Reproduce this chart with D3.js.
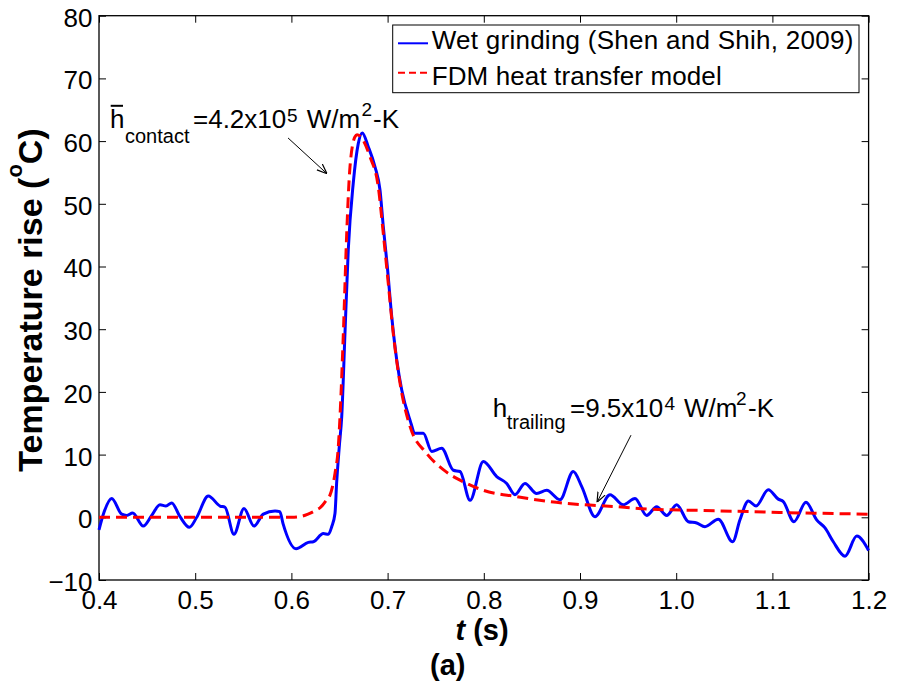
<!DOCTYPE html>
<html>
<head>
<meta charset="utf-8">
<script src="https://cdn.jsdelivr.net/npm/d3@7"></script>
<style>
  html, body { margin: 0; padding: 0; background: #fff; }
  svg { display: block; font-family: "Liberation Sans", Arial, sans-serif; }
</style>
</head>
<body>
<svg id="chart" width="901" height="690"></svg>
<script>
// ---------------- data ----------------
const wetTime = [0.4000,0.4052,0.4132,0.4236,0.4288,0.4350,0.4460,0.4548,0.4634,0.4696,0.4756,0.4842,0.4939,0.5016,0.5136,0.5258,0.5310,0.5403,0.5507,0.5611,0.5708,0.5830,0.5880,0.5913,0.6048,0.6176,0.6228,0.6332,0.6384,0.6419,0.6453,0.6470,0.6498,0.6523,0.6557,0.6591,0.6643,0.6695,0.6737,0.6799,0.6869,0.6921,0.6955,0.6997,0.7043,0.7095,0.7147,0.7233,0.7285,0.7371,0.7459,0.7562,0.7683,0.7753,0.7857,0.7995,0.8134,0.8238,0.8324,0.8428,0.8550,0.8654,0.8792,0.8930,0.9018,0.9156,0.9312,0.9450,0.9572,0.9693,0.9797,0.9901,1.0005,1.0126,1.0213,1.0299,1.0438,1.0587,1.0663,1.0750,1.0830,1.0957,1.1061,1.1113,1.1224,1.1349,1.1460,1.1547,1.1633,1.1755,1.1877,1.2000];
const wetTemp = [-2.0,0.8,3.0,0.5,0.3,0.7,-1.4,0.3,2.0,1.8,2.3,0.1,-1.6,0.0,3.4,1.8,1.6,-2.7,1.4,-1.4,0.5,1.0,0.9,-1.0,-5.0,-4.0,-3.9,-2.6,-2.7,-1.5,0.6,5.4,11.3,16.0,29.4,42.6,53.3,59.6,61.3,59.1,55.9,52.2,46.4,40.0,32.0,25.1,20.3,15.5,13.4,13.4,10.5,11.0,7.5,7.3,2.7,8.9,6.5,5.4,3.6,5.4,3.8,4.3,2.8,7.3,4.9,0.1,3.6,2.0,3.0,0.3,1.7,0.3,2.0,-0.7,-0.9,-1.5,-0.3,-3.9,-0.4,2.6,1.8,4.4,2.9,2.5,-0.7,2.4,-0.4,-1.7,-3.9,-6.2,-3.0,-5.3];

const fdmTime = [0.400,0.450,0.500,0.550,0.600,0.6089,0.6173,0.6263,0.6297,0.6367,0.6400,0.6453,0.6488,0.6505,0.6540,0.6575,0.6609,0.6661,0.6682,0.6713,0.6817,0.6903,0.6955,0.7007,0.7059,0.7129,0.7233,0.7406,0.7579,0.7718,0.7822,0.7995,0.8342,0.8688,0.9034,0.9382,0.9728,1.0249,1.0769,1.1289,1.2000];
const fdmTemp = [0.0,0.0,0.0,0.0,0.0,0.1,0.5,1.2,1.5,2.8,3.5,7.0,11.3,16.0,29.3,45.3,55.9,60.7,61.0,60.8,57.5,52.7,45.3,37.3,29.3,21.4,14.5,10.2,7.6,6.2,5.4,4.3,3.3,2.5,2.0,1.7,1.3,1.1,0.9,0.7,0.5];

const xTicks = [0.4,0.5,0.6,0.7,0.8,0.9,1.0,1.1,1.2];
const yTicks = [-10,0,10,20,30,40,50,60,70,80];
const seriesNames = ["Wet grinding (Shen and Shih, 2009)", "FDM heat transfer model"];

// ---------------- layout ----------------
const svg = d3.select("#chart");
const L = 99, R = 868.6, T = 15.7, B = 580;
const x = d3.scaleLinear().domain([0.4, 1.2]).range([L, R]);
const y = d3.scaleLinear().domain([-10, 80]).range([B, T]);
const tickFont = 26;

svg.append("rect").attr("width", 901).attr("height", 690).attr("fill", "#fff");

// axes
const gx = svg.append("g").attr("transform", `translate(0,${B})`)
  .call(d3.axisBottom(x).tickValues(xTicks).tickFormat(d3.format(".1f")).tickSize(-7).tickSizeOuter(0).tickPadding(11));
const gy = svg.append("g").attr("transform", `translate(${L},0)`)
  .call(d3.axisLeft(y).tickValues(yTicks).tickFormat(d3.format("d")).tickSize(-7).tickSizeOuter(0).tickPadding(6.5));
const gt = svg.append("g").attr("transform", `translate(0,${T})`)
  .call(d3.axisTop(x).tickValues(xTicks).tickFormat("").tickSize(-7).tickSizeOuter(0));
const gr = svg.append("g").attr("transform", `translate(${R},0)`)
  .call(d3.axisRight(y).tickValues(yTicks).tickFormat("").tickSize(-7).tickSizeOuter(0));
[gx, gy, gt, gr].forEach(g => {
  g.select(".domain").remove();
  g.selectAll(".tick line").attr("stroke", "#000").attr("stroke-width", 1);
  g.selectAll("text").attr("font-size", tickFont).attr("fill", "#000")
    .attr("font-family", "Liberation Sans, Arial, sans-serif");
});
gy.selectAll("text").attr("dy", "0.40em");

// frame
svg.append("rect").attr("x", L).attr("y", T).attr("width", R - L).attr("height", B - T)
  .attr("fill", "none").attr("stroke", "#000").attr("stroke-width", 1.3);

// lines
const line = d3.line().curve(d3.curveMonotoneX);
const wetPts = wetTime.map((t, i) => [x(t), y(wetTemp[i])]);
const fdmPts = fdmTime.map((t, i) => [x(t), y(fdmTemp[i])]);

svg.append("path").attr("d", line(wetPts)).attr("fill", "none")
  .attr("stroke", "#0000ff").attr("stroke-width", 3).attr("stroke-linejoin", "round");
svg.append("path").attr("d", line(fdmPts)).attr("fill", "none")
  .attr("stroke", "#ff0000").attr("stroke-width", 3).attr("stroke-dasharray", "11,6");

// legend
const lg = svg.append("g");
lg.append("rect").attr("x", 392.7).attr("y", 25).attr("width", 466.3).attr("height", 67.7)
  .attr("fill", "#fff").attr("stroke", "#000").attr("stroke-width", 1);
lg.append("line").attr("x1", 398).attr("x2", 428).attr("y1", 43.3).attr("y2", 43.3)
  .attr("stroke", "#0000ff").attr("stroke-width", 2);
lg.append("line").attr("x1", 398).attr("x2", 428).attr("y1", 72.7).attr("y2", 72.7)
  .attr("stroke", "#ff0000").attr("stroke-width", 2).attr("stroke-dasharray", "7,4");
lg.append("text").attr("x", 431.7).attr("y", 48.5).attr("font-size", 26)
  .attr("textLength", 421.6).attr("lengthAdjust", "spacing").text(seriesNames[0]);
lg.append("text").attr("x", 431.7).attr("y", 85).attr("font-size", 26)
  .attr("textLength", 290).attr("lengthAdjust", "spacing").text(seriesNames[1]);

// annotations
function piece(xp, yp, size, str) {
  svg.append("text").attr("x", xp).attr("y", yp).attr("font-size", size).attr("fill", "#000").text(str);
}
// contact
piece(110, 128, 26, "h");
svg.append("line").attr("x1", 110.7).attr("x2", 123).attr("y1", 105.8).attr("y2", 105.8)
  .attr("stroke", "#000").attr("stroke-width", 2);
piece(125, 143, 20, "contact");
piece(193, 128, 26, "=4.2x10");
piece(287, 121.7, 19, "5");
piece(306.7, 128, 26, "W/m");
piece(361.5, 116, 19, "2");
piece(373, 128, 26, "-K");
// trailing
piece(492.7, 417, 26, "h");
piece(506.7, 429, 20, "trailing");
piece(570, 417, 26, "=9.5x10");
piece(664.5, 410, 19, "4");
piece(684, 417, 26, "W/m");
piece(736, 405, 19, "2");
piece(748, 417, 26, "-K");

// arrows
svg.append("defs").append("marker").attr("id", "ah")
  .attr("viewBox", "0 0 10 10").attr("refX", 10).attr("refY", 5)
  .attr("markerWidth", 10).attr("markerHeight", 10).attr("markerUnits", "userSpaceOnUse")
  .attr("orient", "auto")
  .append("path").attr("d", "M0,1 L10,5 L0,9").attr("fill", "none").attr("stroke", "#000").attr("stroke-width", 1.2);
svg.append("line").attr("x1", x(0.5965)).attr("y1", y(60.5)).attr("x2", x(0.6370)).attr("y2", y(54.8))
  .attr("stroke", "#000").attr("stroke-width", 1).attr("marker-end", "url(#ah)");
svg.append("line").attr("x1", x(0.9530)).attr("y1", y(13.1)).attr("x2", x(0.9177)).attr("y2", y(2.4))
  .attr("stroke", "#000").attr("stroke-width", 1).attr("marker-end", "url(#ah)");

// axis titles
const yl = svg.append("text").attr("transform", "translate(42,300) rotate(-90)")
  .attr("text-anchor", "middle").attr("font-size", 34).attr("font-weight", "bold");
yl.append("tspan").text("Temperature rise (");
yl.append("tspan").attr("font-size", 22).attr("dy", -20).text("o");
yl.append("tspan").attr("dy", 20).text("C)");

const xl = svg.append("text").attr("x", 482).attr("y", 640).attr("text-anchor", "middle")
  .attr("font-size", 29).attr("font-weight", "bold");
xl.append("tspan").attr("font-style", "italic").text("t");
xl.append("tspan").text(" (s)");

svg.append("text").attr("x", 447.7).attr("y", 675).attr("text-anchor", "middle")
  .attr("font-size", 29).attr("font-weight", "bold").text("(a)");
</script>
</body>
</html>
